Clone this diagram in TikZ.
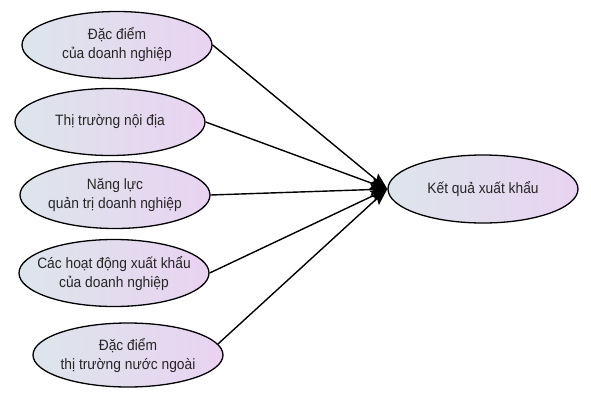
\documentclass[tikz,border=0pt]{standalone}
\usepackage{fontspec}
\setmainfont{Liberation Sans}[FakeStretch=0.92]
\usetikzlibrary{shapes.geometric,arrows.meta,shadings}
\definecolor{fillL}{HTML}{DDE5EC}
\definecolor{fillR}{HTML}{E9D3F1}
\tikzset{
  lbl/.style={align=center, font=\fontsize{15}{19}\selectfont, text=black!85, inner sep=0pt},
  factor/.style={ellipse, draw=black, line width=1.3pt, left color=fillL, right color=fillR,
    minimum width=190pt, minimum height=67pt, inner sep=0pt, label={[lbl]center:#1}},
  link/.style={line width=1.4pt, -{Stealth[length=17pt,width=12pt,inset=3pt]}}
}
\begin{document}
\begin{tikzpicture}[x=1pt,y=-1pt]
\useasboundingbox (0,0) rectangle (591,404);
\node[factor={Đặc điểm\\của doanh nghiệp}] (e1) at (117,45) {};
\node[factor={Thị trường nội địa}] (e2) at (110,122) {};
\node[factor={Năng lực\\quản trị doanh nghiệp}] (e3) at (115,195) {};
\node[factor={Các hoạt động xuất khẩu\\của doanh nghiệp}] (e4) at (114,273) {};
\node[factor={Đặc điểm\\thị trường nước ngoài}, minimum height=64pt] (e5) at (128,355) {};
\node[factor={Kết quả xuất khẩu}, minimum height=68pt] (t) at (483,189) {};
\draw[link] (e1.east) -- (t.west);
\draw[link] (e2.east) -- (t.west);
\draw[link] (e3.east) -- (t.west);
\draw[link] (e4.east) -- (t.west);
\draw[link] (e5.7) -- (t.west);
\end{tikzpicture}
\end{document}
